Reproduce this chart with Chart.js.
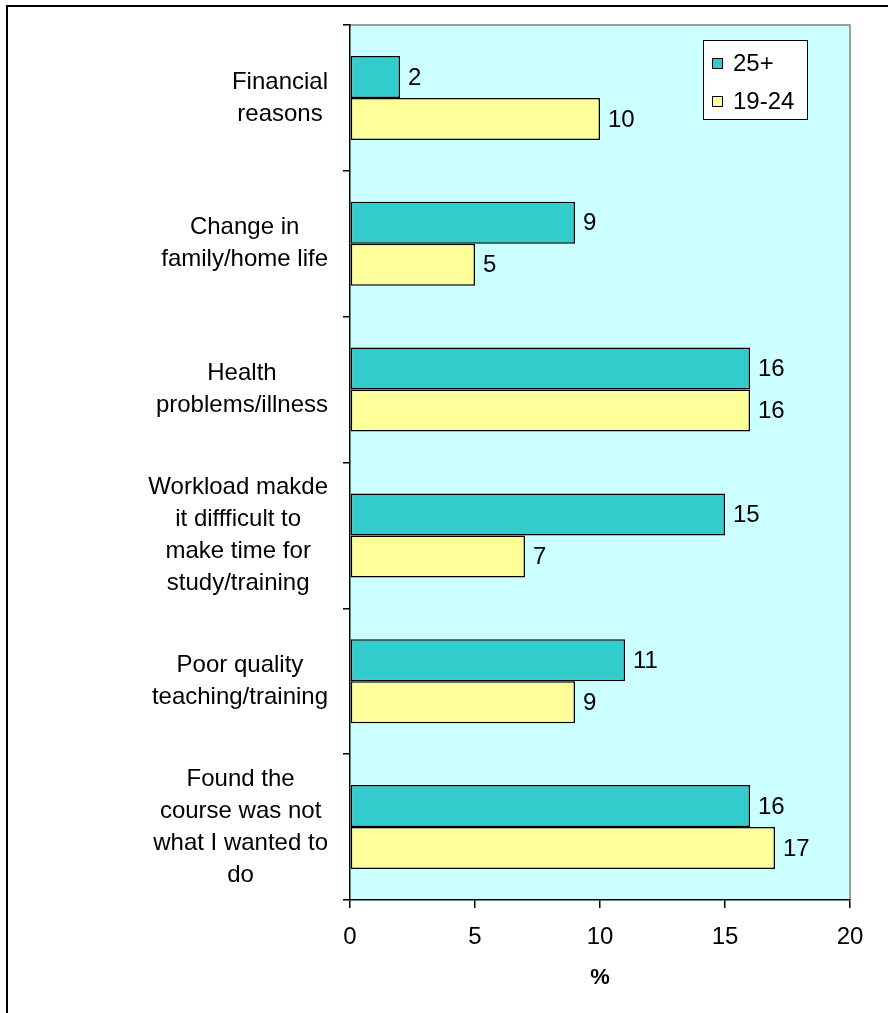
<!DOCTYPE html>
<html>
<head>
<meta charset="utf-8">
<script src="https://cdn.jsdelivr.net/npm/chart.js@4"></script>
<style>
  body { margin: 0; background: #fff; }
  .frame { position: absolute; left: 6px; top: 5px; width: 900px; height: 1020px; border-left: 2px solid #000; border-top: 2px solid #000; }
  canvas { position: absolute; left: 0; top: 0; }
</style>
</head>
<body>
<div class="frame"></div>
<canvas id="chart" width="888" height="1013"></canvas>
<script>
// reasons for leaving the course, by age group (%)
const categories = [
    ['Financial', 'reasons'],
    ['Change in', 'family/home life'],
    ['Health', 'problems/illness'],
    ['Workload makde', 'it diffficult to', 'make time for', 'study/training'],
    ['Poor quality', 'teaching/training'],
    ['Found the', 'course was not', 'what I wanted to', 'do']
];
const age25plus = [2, 9, 16, 15, 11, 16];
const age19to24 = [10, 5, 16, 7, 9, 17];
const xTicks = [0, 5, 10, 15, 20];

const FONT = '"Liberation Sans", Arial, sans-serif';

// light turquoise plot background + grey top/right edge
const plotBackground = {
    id: 'plotBackground',
    beforeDraw(chart) {
        const { ctx, chartArea: a } = chart;
        ctx.save();
        ctx.fillStyle = '#CCFFFF';
        ctx.fillRect(a.left, a.top, a.right - a.left, a.bottom - a.top);
        ctx.strokeStyle = '#808080';
        ctx.lineWidth = 1.5;
        ctx.beginPath();
        ctx.moveTo(a.left, a.top);
        ctx.lineTo(a.right, a.top);
        ctx.lineTo(a.right, a.bottom);
        ctx.stroke();
        ctx.restore();
    }
};

// numbers at the end of each bar
const valueLabels = {
    id: 'valueLabels',
    afterDatasetsDraw(chart) {
        const ctx = chart.ctx;
        ctx.save();
        ctx.font = '24px ' + FONT;
        ctx.fillStyle = '#000';
        ctx.textBaseline = 'middle';
        ctx.textAlign = 'left';
        chart.data.datasets.forEach((ds, i) => {
            chart.getDatasetMeta(i).data.forEach((bar, j) => {
                ctx.fillText(ds.data[j], bar.x + 8, bar.y + 1);
            });
        });
        ctx.restore();
    }
};

// category labels: block right-aligned, lines centred inside the block
const categoryLabels = {
    id: 'categoryLabels',
    afterDraw(chart) {
        const ctx = chart.ctx;
        const yScale = chart.scales.y;
        const lineH = 32;
        ctx.save();
        ctx.font = '24px ' + FONT;
        ctx.fillStyle = '#000';
        ctx.textBaseline = 'middle';
        ctx.textAlign = 'center';
        categories.forEach((lines, i) => {
            const cy = yScale.getPixelForValue(i);
            const blockW = Math.max(...lines.map(l => ctx.measureText(l).width));
            const cx = chart.chartArea.left - 22 - blockW / 2;
            const top = cy - (lines.length - 1) * lineH / 2;
            lines.forEach((l, k) => ctx.fillText(l, cx, top + k * lineH));
        });
        ctx.restore();
    }
};

// boxed legend in the top right corner of the plot
const boxLegend = {
    id: 'boxLegend',
    afterDraw(chart) {
        const { ctx, chartArea: a } = chart;
        const bx = a.right - 147, by = a.top + 15, bw = 104, bh = 79;
        ctx.save();
        ctx.fillStyle = '#fff';
        ctx.fillRect(bx, by, bw, bh);
        ctx.strokeStyle = '#000';
        ctx.lineWidth = 1;
        ctx.strokeRect(bx + 0.5, by + 0.5, bw, bh);
        ctx.font = '24px ' + FONT;
        ctx.textBaseline = 'middle';
        ctx.textAlign = 'left';
        chart.data.datasets.forEach((ds, i) => {
            const cy = by + 23 + i * 38;
            ctx.fillStyle = ds.backgroundColor;
            ctx.fillRect(bx + 9, cy - 5, 10, 10);
            ctx.strokeRect(bx + 9.5, cy - 4.5, 10, 10);
            ctx.fillStyle = '#000';
            ctx.fillText(ds.label, bx + 30, cy + 1);
        });
        ctx.restore();
    }
};

const ctx = document.getElementById('chart').getContext('2d');
new Chart(ctx, {
    type: 'bar',
    data: {
        labels: categories,
        datasets: [{
            label: '25+',
            data: age25plus,
            backgroundColor: '#33CCCC',
            borderColor: '#000',
            borderWidth: 1.5,
            borderSkipped: false
        }, {
            label: '19-24',
            data: age19to24,
            backgroundColor: '#FFFF99',
            borderColor: '#000',
            borderWidth: 1.5,
            borderSkipped: false
        }]
    },
    options: {
        indexAxis: 'y',
        responsive: false,
        animation: false,
        events: [],
        categoryPercentage: 0.576,
        barPercentage: 1,
        layout: { padding: { top: 25, right: 38, left: 0, bottom: 0 } },
        plugins: {
            legend: { display: false },
            tooltip: { enabled: false }
        },
        scales: {
            y: {
                offset: true,
                ticks: { display: false },
                grid: { drawOnChartArea: false, drawTicks: true, tickLength: 7, color: '#000', lineWidth: 1.5 },
                border: { color: '#000', width: 1.5 },
                afterFit(scale) { scale.width = 350; }
            },
            x: {
                min: xTicks[0],
                max: xTicks[xTicks.length - 1],
                ticks: {
                    stepSize: xTicks[1] - xTicks[0],
                    color: '#000',
                    font: { family: FONT, size: 24 },
                    padding: 15,
                    maxRotation: 0
                },
                grid: { drawOnChartArea: false, drawTicks: true, tickLength: 8, color: '#000', lineWidth: 1.5 },
                border: { color: '#000', width: 1.5 },
                title: {
                    display: true,
                    text: '%',
                    color: '#000',
                    font: { family: FONT, size: 22, weight: 'bold' },
                    padding: { top: 0, bottom: 22 }
                },
                afterFit(scale) { scale.height = 113; }
            }
        }
    },
    plugins: [plotBackground, valueLabels, categoryLabels, boxLegend]
});
</script>
</body>
</html>
